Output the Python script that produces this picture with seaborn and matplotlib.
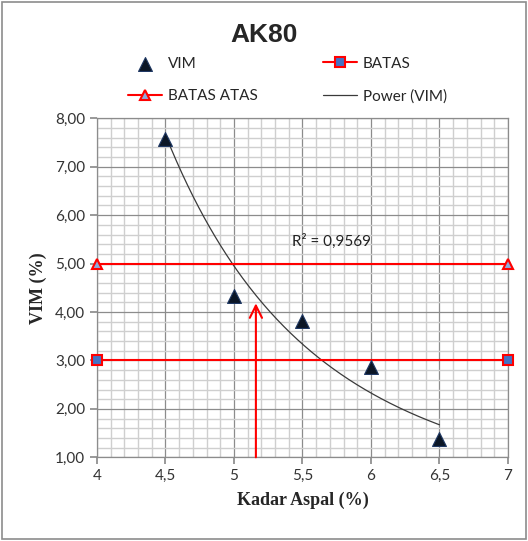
import numpy as np
import pandas as pd
import matplotlib
matplotlib.use("Agg")
import matplotlib.pyplot as plt
from matplotlib.patches import Rectangle
from matplotlib.ticker import MultipleLocator, FuncFormatter
import seaborn as sns

# Asphalt content (%) vs VIM (%)
kadar_aspal = [4.5, 5.0, 5.5, 6.0, 6.5]
vim = [7.57, 4.33, 3.82, 2.87, 1.37]

# Specification limits
batas_x = [4, 7]
batas_bawah = [3.0, 3.0]
batas_atas = [5.0, 5.0]

# Optimum asphalt content
kadar_optimum = 5.16
vim_optimum = 4.18
r2_text = "R² = 0,9569"

sns.set_theme(style="white")
plt.rcParams["font.family"] = ["Lato", "DejaVu Sans"]

fig = plt.figure(figsize=(5.28, 5.41), dpi=100)
ax = fig.add_axes([0.1837, 0.1547, 0.962 - 0.1837, 0.7813 - 0.1547])

# Power trend line y = a * x^b (least squares on logs)
lx, ly = np.log(kadar_aspal), np.log(vim)
b, loga = np.polyfit(lx, ly, 1)
xf = np.linspace(min(kadar_aspal), max(kadar_aspal), 200)
fit = pd.DataFrame({"x": xf, "y": np.exp(loga) * xf ** b})

red = "#ff0000"
sns.lineplot(x=batas_x, y=batas_bawah, ax=ax, color=red, lw=1.5, marker="s",
             markersize=6.5, markerfacecolor="#4472c4", markeredgecolor=red,
             markeredgewidth=1.5, label="BATAS", clip_on=False, zorder=4)
sns.lineplot(x=batas_x, y=batas_atas, ax=ax, color=red, lw=1.5, marker="^",
             markersize=7.5, markerfacecolor="#8ea9db", markeredgecolor=red,
             markeredgewidth=1.5, label="BATAS ATAS", clip_on=False, zorder=4)
sns.lineplot(data=fit, x="x", y="y", ax=ax, color="#3a3a3a", lw=0.9,
             label="Power (VIM)", zorder=3)
sns.scatterplot(x=kadar_aspal, y=vim, ax=ax, marker="^", s=100,
                color="#0b1626", edgecolor="#1f3864", linewidth=0.8,
                label="VIM", zorder=5)

ax.annotate("", xy=(kadar_optimum, vim_optimum), xytext=(kadar_optimum, 1.0),
            arrowprops=dict(arrowstyle="->", color=red, lw=1.5,
                            mutation_scale=22, shrinkA=0, shrinkB=0),
            zorder=4)

ax.text(5.42, 5.45, r2_text, fontsize=11, color="#222222", va="center")

ax.set_xlim(4, 7)
ax.set_ylim(1, 8)
ax.xaxis.set_major_locator(MultipleLocator(0.5))
ax.xaxis.set_minor_locator(MultipleLocator(0.1))
ax.yaxis.set_major_locator(MultipleLocator(1))
ax.yaxis.set_minor_locator(MultipleLocator(0.2))
ax.xaxis.set_major_formatter(FuncFormatter(lambda v, p: f"{v:g}".replace(".", ",")))
ax.yaxis.set_major_formatter(FuncFormatter(lambda v, p: f"{v:.2f}".replace(".", ",")))
ax.grid(which="major", color="#8c8c8c", lw=0.9)
ax.grid(which="minor", color="#cfcfcf", lw=1.0)
ax.set_axisbelow(True)
ax.tick_params(axis="both", which="major", length=5, color="#8c8c8c",
               labelsize=11, labelcolor="#333333", direction="out",
               bottom=True, left=True)
ax.tick_params(which="minor", length=0)
for s in ax.spines.values():
    s.set_color("#8c8c8c")
    s.set_linewidth(0.9)

ax.set_xlabel("Kadar Aspal (%)", family=["Liberation Serif"], fontweight="bold",
              fontsize=13, labelpad=6)
ax.set_ylabel("VIM (%)", family=["Liberation Serif"], fontweight="bold",
              fontsize=13, labelpad=6)

fig.text(0.5, 0.935, "AK80", ha="center", va="center", fontsize=19,
         fontweight="bold", family=["Liberation Sans"])

handles, labels = ax.get_legend_handles_labels()
order = ["VIM", "BATAS ATAS", "BATAS", "Power (VIM)"]
hmap = dict(zip(labels, handles))
if ax.legend_:
    ax.legend_.remove()
fig.legend([hmap[k] for k in order], order, ncol=2, loc="center",
           bbox_to_anchor=(0.5445, 0.852), frameon=False, fontsize=11,
           handlelength=2.2, columnspacing=4.3, labelspacing=1.2,
           handletextpad=0.4)

fig.patches.append(Rectangle((0.003, 0.003), 0.994, 0.994, transform=fig.transFigure,
                             fill=False, edgecolor="#8c8c8c", lw=1.2))

fig.savefig("out.png", dpi=100)
